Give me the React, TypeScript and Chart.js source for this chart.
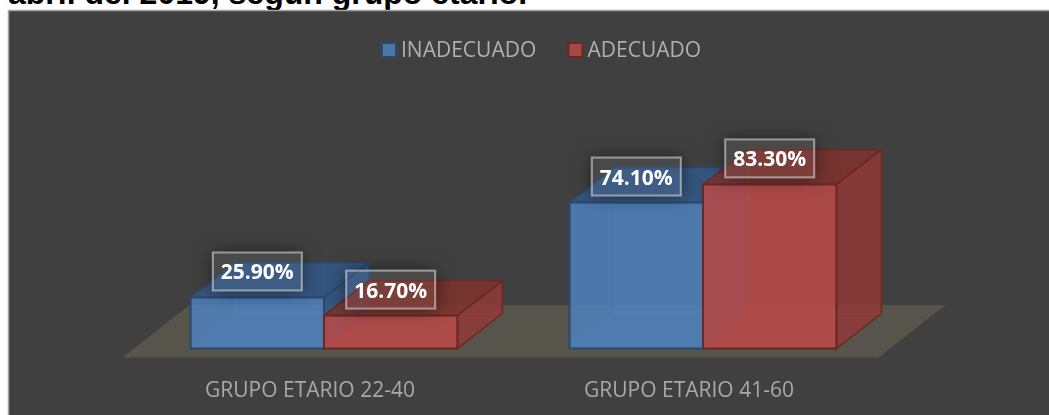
import React, { useEffect, useRef } from "react";
import { Chart, registerables } from "chart.js";

Chart.register(...registerables);

const titleText = "abril del 2019, según grupo etario.";
const categories = ["GRUPO ETARIO 22-40", "GRUPO ETARIO 41-60"];
const inadecuado = [25.9, 74.1];
const adecuado = [16.7, 83.3];
const seriesNames = ["INADECUADO", "ADECUADO"];

const FONT = '"Open Sans", sans-serif';
const DX = 45;
const DY = -35;

const faces = [
  { front: "rgba(79,129,189,0.85)", side: "rgba(52,88,135,0.85)", top: "rgba(52,88,135,0.85)", inner: "rgba(79,129,189,0.1)", line: "rgba(79,129,189,0.5)", edge: "rgb(42,72,112)" },
  { front: "rgba(186,74,70,0.85)", side: "rgba(144,57,55,0.85)", top: "rgba(124,50,45,0.85)", inner: "rgba(192,80,77,0.1)", line: "rgba(192,80,77,0.5)", edge: "rgb(105,40,36)" },
];

function poly(ctx: CanvasRenderingContext2D, pts: number[][], fill: string | null, stroke?: string, lw = 1.5) {
  ctx.beginPath();
  pts.forEach((p, i) => (i ? ctx.lineTo(p[0], p[1]) : ctx.moveTo(p[0], p[1])));
  ctx.closePath();
  if (fill) {
    ctx.fillStyle = fill;
    ctx.fill();
  }
  if (stroke) {
    ctx.strokeStyle = stroke;
    ctx.lineWidth = lw;
    ctx.stroke();
  }
}

const scenePlugin = {
  id: "scene",
  beforeDraw(chart: any) {
    const { ctx, width, height } = chart;
    ctx.save();
    ctx.fillStyle = "#404040";
    ctx.fillRect(8, 10, width - 8, height - 10);
    ctx.strokeStyle = "#a3a3a3";
    ctx.lineWidth = 1.5;
    ctx.beginPath();
    ctx.moveTo(8.5, height);
    ctx.lineTo(8.5, 10.5);
    ctx.lineTo(width, 10.5);
    ctx.stroke();

    // legend
    const legendX = [381, 567.5];
    ctx.font = `21px ${FONT}`;
    ctx.textBaseline = "middle";
    ctx.textAlign = "left";
    seriesNames.forEach((name, i) => {
      const x = legendX[i];
      ctx.fillStyle = faces[i].front;
      ctx.fillRect(x + 1, 43, 14, 14);
      ctx.strokeStyle = faces[i].edge;
      ctx.lineWidth = 2;
      ctx.strokeRect(x + 1, 43, 14, 14);
      ctx.fillStyle = "#b0b0b0";
      ctx.fillText(name, x + 20, 51.5);
    });
    ctx.restore();
  },
  beforeDatasetsDraw(chart: any) {
    const { ctx, chartArea } = chart;
    const yBase = chartArea.bottom;
    ctx.save();
    // floor
    poly(
      ctx,
      [
        [chartArea.left - 12, yBase + 9],
        [chartArea.right - 14, yBase + 9],
        [chartArea.right + 53, yBase - 43.5],
        [chartArea.left + 55, yBase - 43.5],
      ],
      "#57544c"
    );
    // inner and outer faces of each box, behind the library's own front bars
    chart.data.datasets.forEach((_: any, di: number) => {
      const meta = chart.getDatasetMeta(di);
      const f = faces[di];
      meta.data.forEach((bar: any) => {
        const half = bar.width / 2;
        const l = bar.x - half;
        const r = bar.x + half;
        const t = bar.y;
        const b = yBase;
        // back
        poly(ctx, [[l + DX, t + DY], [r + DX, t + DY], [r + DX, b + DY], [l + DX, b + DY]], f.inner, f.line, 1);
        // bottom
        poly(ctx, [[l, b], [r, b], [r + DX, b + DY], [l + DX, b + DY]], f.inner, f.line, 1);
        // right
        poly(ctx, [[r, t], [r + DX, t + DY], [r + DX, b + DY], [r, b]], f.side, f.edge);
        // top
        poly(ctx, [[l, t], [r, t], [r + DX, t + DY], [l + DX, t + DY]], f.top, f.edge);
      });
    });
    ctx.restore();
  },
  afterDatasetsDraw(chart: any) {
    const { ctx, chartArea } = chart;
    ctx.save();
    // front-face outlines, centred on the bar edges
    chart.data.datasets.forEach((_: any, di: number) => {
      const meta = chart.getDatasetMeta(di);
      meta.data.forEach((bar: any) => {
        const half = bar.width / 2;
        ctx.strokeStyle = faces[di].edge;
        ctx.lineWidth = 2;
        ctx.strokeRect(bar.x - half, bar.y, bar.width, chartArea.bottom - bar.y);
      });
    });
    const W = 89;
    const H = 38;
    chart.data.datasets.forEach((ds: any, di: number) => {
      const meta = chart.getDatasetMeta(di);
      meta.data.forEach((bar: any, i: number) => {
        const cx = bar.x;
        const cy = bar.y - 26;
        // soft shadow outside the box only
        ctx.save();
        ctx.beginPath();
        ctx.rect(cx - W / 2 - 40, cy - H / 2 - 40, W + 80, H + 80);
        ctx.rect(cx - W / 2, cy - H / 2, W, H);
        ctx.clip("evenodd");
        ctx.shadowColor = "rgba(0,0,0,0.55)";
        ctx.shadowBlur = 18;
        ctx.fillStyle = "#000";
        ctx.fillRect(cx - W / 2, cy - H / 2, W, H);
        ctx.restore();
        ctx.fillStyle = "rgba(255,255,255,0.05)";
        ctx.fillRect(cx - W / 2, cy - H / 2, W, H);
        ctx.strokeStyle = "rgba(255,255,255,0.5)";
        ctx.lineWidth = 2;
        ctx.strokeRect(cx - W / 2, cy - H / 2, W, H);
        ctx.fillStyle = "#ffffff";
        ctx.font = `bold 21px ${FONT}`;
        ctx.textAlign = "center";
        ctx.textBaseline = "middle";
        ctx.fillText(ds.data[i].toFixed(2) + "%", cx, cy + 2);
      });
    });
    ctx.restore();
  },
};

export default function App() {
  const ref = useRef<HTMLCanvasElement | null>(null);
  useEffect(() => {
    const chart = new Chart(ref.current as HTMLCanvasElement, {
      type: "bar",
      data: {
        labels: categories,
        datasets: [
          { label: seriesNames[0], data: inadecuado, backgroundColor: faces[0].front, borderWidth: 0 },
          { label: seriesNames[1], data: adecuado, backgroundColor: faces[1].front, borderWidth: 0 },
        ],
      },
      options: {
        animation: false,
        responsive: false,
        layout: { padding: { left: 134.5, right: 156.5, top: 151.5, bottom: 0 } },
        datasets: { bar: { categoryPercentage: 0.704, barPercentage: 1 } },
        plugins: { legend: { display: false }, tooltip: { enabled: false }, title: { display: false } },
        scales: {
          y: { display: false, min: 0, max: 100 },
          x: {
            grid: { display: false, drawTicks: false },
            border: { display: false },
            afterFit: (s: any) => {
              s.height = 66.5;
            },
            ticks: {
              color: "#a8a8a8",
              font: { family: FONT, size: 21 },
              padding: 30,
              labelOffset: -14,
              maxRotation: 0,
              autoSkip: false,
            },
          },
        },
      },
      plugins: [scenePlugin],
    } as any);
    return () => chart.destroy();
  }, []);
  return (
    <div style={{ position: "absolute", left: 0, top: 0, width: 1049, height: 415, overflow: "hidden", background: "#fff" }}>
      <div
        style={{
          position: "absolute",
          left: 8,
          top: -25,
          whiteSpace: "nowrap",
          font: 'bold 32px/36px "Liberation Sans", Arial, sans-serif',
          color: "#000",
        }}
      >
        {titleText}
      </div>
      <canvas ref={ref} width={1049} height={415} style={{ position: "absolute", left: 0, top: 0, display: "block" }} />
    </div>
  );
}
